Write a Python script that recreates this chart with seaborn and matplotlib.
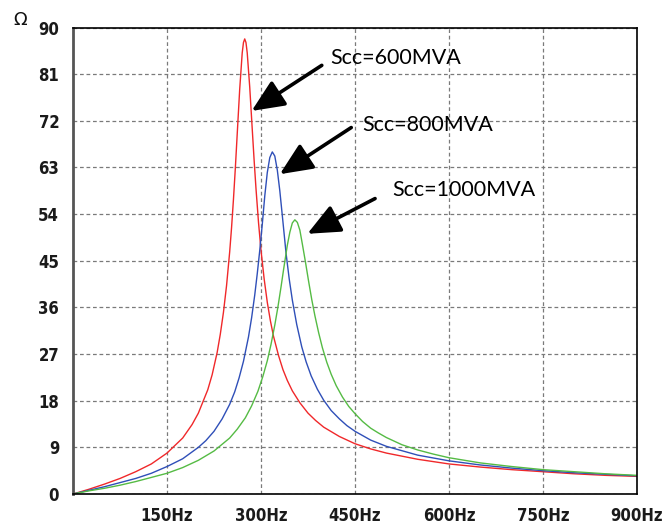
import matplotlib
matplotlib.use("Agg")
import matplotlib.pyplot as plt
import seaborn as sns
import pandas as pd

# impedance vs frequency for three short-circuit levels
freq_600 = [0, 25, 50, 75, 100, 125, 150, 175, 190, 200, 215, 222, 230, 235, 240, 245,
            250, 253, 256, 259, 262, 266, 270, 272, 274, 276, 278, 282, 286, 289, 292,
            296, 300, 305, 310, 315, 320, 328, 335, 342, 350, 362, 375, 387, 400, 425,
            450, 475, 500, 550, 600, 650, 700, 750, 800, 850, 900]
z_600 = [0, 0.9, 1.9, 3.0, 4.3, 5.8, 7.9, 10.8, 13.4, 15.6, 20.1, 23.0, 27.3, 30.8, 35.0,
         40.2, 46.7, 51.4, 56.8, 62.8, 69.4, 78.1, 85.1, 87.1, 87.8, 87.1, 85.1, 78.5,
         70.4, 64.4, 58.9, 52.4, 47.0, 41.5, 37.0, 33.4, 30.4, 26.7, 24.0, 21.9, 19.9,
         17.6, 15.6, 14.2, 12.9, 11.1, 9.7, 8.7, 7.9, 6.7, 5.8, 5.2, 4.7, 4.3, 3.9, 3.6, 3.4]

freq_800 = [0, 25, 50, 75, 100, 125, 150, 175, 200, 212, 225, 238, 250, 258, 265, 272,
            280, 285, 290, 294, 298, 302, 306, 310, 314, 318, 322, 326, 330, 335, 340,
            345, 350, 357, 365, 372, 380, 390, 400, 412, 425, 437, 450, 475, 500, 550,
            600, 650, 700, 750, 800, 850, 900]
z_800 = [0, 0.7, 1.4, 2.2, 3.0, 4.0, 5.3, 6.8, 9.0, 10.3, 12.1, 14.5, 17.3, 19.7, 22.4,
         25.6, 30.3, 34.0, 38.4, 42.5, 47.0, 52.0, 57.5, 62.0, 64.9, 66.0, 65.2, 62.5,
         58.5, 52.5, 46.4, 41.5, 37.4, 32.7, 28.4, 25.5, 22.8, 20.2, 18.1, 16.1, 14.5,
         13.2, 12.1, 10.4, 9.2, 7.5, 6.4, 5.6, 5.0, 4.5, 4.1, 3.8, 3.5]

freq_1000 = [0, 25, 50, 75, 100, 125, 150, 175, 200, 225, 250, 262, 275, 285, 295, 303,
             310, 316, 322, 327, 332, 336, 342, 346, 350, 354, 358, 362, 366, 371, 376,
             381, 386, 392, 398, 405, 412, 420, 430, 440, 450, 462, 475, 487, 500, 525,
             550, 575, 600, 650, 700, 750, 800, 850, 900]
z_1000 = [0, 0.6, 1.1, 1.7, 2.4, 3.2, 4.0, 5.1, 6.5, 8.3, 10.8, 12.5, 14.7, 17.0, 19.8,
          22.7, 25.7, 28.9, 32.6, 36.1, 40.0, 43.3, 48.0, 50.5, 52.3, 52.9, 52.4, 50.9,
          48.2, 44.7, 41.0, 37.5, 34.4, 31.1, 28.2, 25.4, 23.1, 20.9, 18.7, 16.9, 15.5,
          14.0, 12.7, 11.8, 10.9, 9.5, 8.5, 7.7, 7.0, 6.0, 5.3, 4.7, 4.3, 3.9, 3.6]

series_names = ["Scc=600MVA", "Scc=800MVA", "Scc=1000MVA"]
series_colors = ["#f0282a", "#2f4fb8", "#55bb44"]

x_ticks = [150, 300, 450, 600, 750, 900]
x_tick_labels = ["150Hz", "300Hz", "450Hz", "600Hz", "750Hz", "900Hz"]
y_ticks = [0, 9, 18, 27, 36, 45, 54, 63, 72, 81, 90]

frames = []
for name, f, z in zip(series_names, [freq_600, freq_800, freq_1000], [z_600, z_800, z_1000]):
    frames.append(pd.DataFrame({"freq": f, "z": z, "case": name}))
df = pd.concat(frames, ignore_index=True)

sns.set_style("white")
fig = plt.figure(figsize=(6.65, 5.27), dpi=100)
ax = fig.add_axes([0.1098, 0.0626, 0.8481, 0.8852])

sns.lineplot(data=df, x="freq", y="z", hue="case", palette=series_colors,
             sort=False, estimator=None, linewidth=1.0, legend=False, ax=ax)

ax.set_xlim(0, 900)
ax.set_ylim(0, 90)
ax.set_xticks(x_ticks)
ax.set_xticklabels(x_tick_labels)
ax.set_yticks(y_ticks)
ax.set_yticklabels([str(v) for v in y_ticks])
ax.set_xlabel("")
ax.set_ylabel("")

ax.grid(True, color="#7a7a7a", linestyle=(0, (3, 2.2)), linewidth=0.9)
ax.set_axisbelow(True)

for side in ["top", "right", "bottom"]:
    ax.spines[side].set_color("black")
    ax.spines[side].set_linewidth(1.2)
ax.spines["left"].set_color("#555555")
ax.spines["left"].set_linewidth(2.0)

ax.tick_params(axis="both", direction="out", width=1.2, color="#333333",
               labelsize=12, labelcolor="#1a1a1a")
ax.tick_params(axis="x", length=7, pad=2.5)
ax.tick_params(axis="y", length=8, pad=2)
for lab in ax.get_xticklabels() + ax.get_yticklabels():
    lab.set_fontweight("bold")
    lab.set_fontstretch("condensed")

fig.text(0.03, 0.962, "Ω", fontsize=13, ha="center", va="center", color="#111111")

# arrows pointing at the peaks
arrow_style = dict(arrowstyle="-|>,head_length=0.9,head_width=0.4", mutation_scale=22,
                   lw=2.6, color="black", shrinkA=0, shrinkB=0)
ax.annotate("", xy=(285, 73.9), xytext=(397, 82.7), arrowprops=arrow_style)
ax.annotate("", xy=(330, 61.7), xytext=(444, 70.7), arrowprops=arrow_style)
ax.annotate("", xy=(374, 50.2), xytext=(482, 57.0), arrowprops=arrow_style)

label_pos = [(410, 84.2), (461, 71.1), (510, 58.6)]
for name, (lx, ly) in zip(series_names, label_pos):
    ax.text(lx, ly, name, fontsize=15.5, family="Lato", ha="left", va="center",
            color="black")

fig.savefig("out.png", dpi=100)
